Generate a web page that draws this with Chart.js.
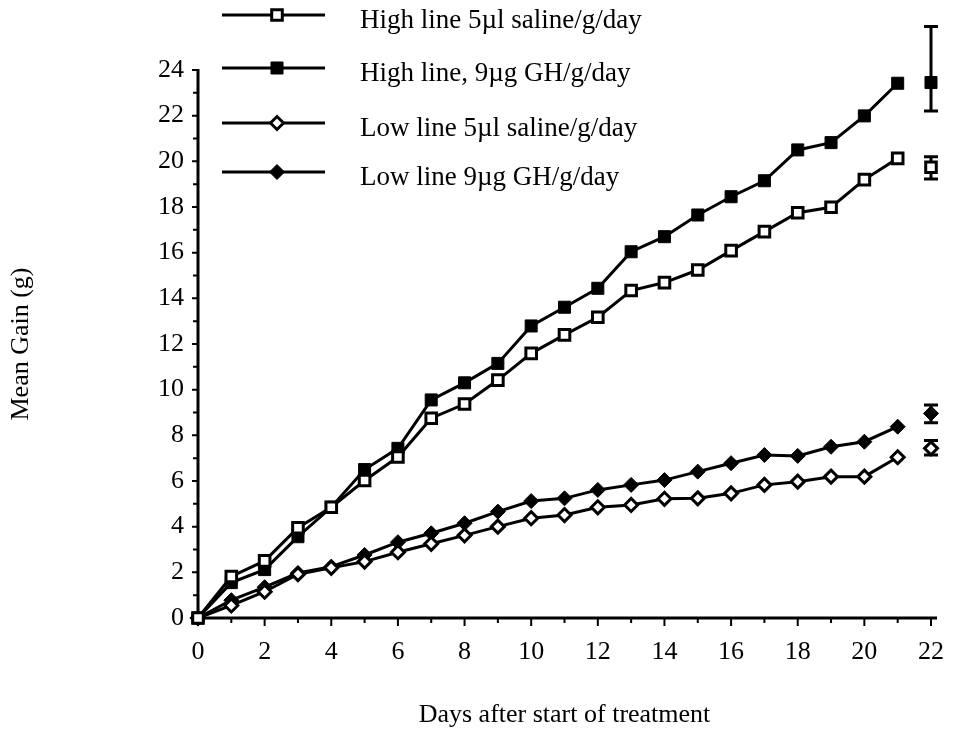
<!DOCTYPE html>
<html>
<head>
<meta charset="utf-8">
<script src="https://cdn.jsdelivr.net/npm/chart.js@4.4.1/dist/chart.umd.min.js"></script>
<style>
html, body { margin: 0; padding: 0; background: #fff; overflow: hidden; }
#wrap { width: 957px; height: 732px; position: relative; }
#gain { display: block; }
</style>
</head>
<body>
<div id="wrap"><canvas id="gain"></canvas></div>
<script>
var days = [0, 1, 2, 3, 4, 5, 6, 7, 8, 9, 10, 11, 12, 13, 14, 15, 16, 17, 18, 19, 20, 21];
var highSaline = [0, 1.82, 2.5, 3.95, 4.85, 6.02, 7.05, 8.75, 9.37, 10.42, 11.59, 12.4, 13.17, 14.34, 14.69, 15.24, 16.09, 16.92, 17.75, 17.99, 19.2, 20.13];
var highGH = [0, 1.55, 2.12, 3.56, 4.85, 6.5, 7.43, 9.55, 10.3, 11.15, 12.79, 13.61, 14.44, 16.04, 16.7, 17.65, 18.45, 19.15, 20.5, 20.82, 21.99, 23.42];
var lowSaline = [0, 0.55, 1.15, 1.92, 2.2, 2.47, 2.88, 3.25, 3.62, 4.0, 4.37, 4.51, 4.85, 4.95, 5.22, 5.24, 5.46, 5.83, 5.97, 6.19, 6.19, 7.04];
var lowGH = [0, 0.78, 1.35, 1.97, 2.25, 2.76, 3.32, 3.71, 4.15, 4.66, 5.12, 5.24, 5.61, 5.83, 6.04, 6.41, 6.78, 7.14, 7.1, 7.5, 7.72, 8.38];

// mean +/- error shown past the last day
var endDay = 22;
var endMean = [19.74, 23.45, 7.43, 8.96];
var endLow = [19.23, 22.2, 7.14, 8.55];
var endHigh = [20.2, 25.9, 7.77, 9.33];

var seriesNames = ['High line 5\u00b5l saline/g/day', 'High line, 9\u00b5g GH/g/day', 'Low line 5\u00b5l saline/g/day', 'Low line 9\u00b5g GH/g/day'];
var xTickLabels = ['0', '2', '4', '6', '8', '10', '12', '14', '16', '18', '20', '22'];
var yTickLabels = ['0', '2', '4', '6', '8', '10', '12', '14', '16', '18', '20', '22', '24'];

var ink = '#000';
var serif = "'Liberation Serif', 'Times New Roman', serif";
var textSize = 26;

var markers = [
	{style: 'rect', fill: '#fff', radius: 7.5, border: 3},
	{style: 'rect', fill: ink, radius: 8.5, border: 1},
	{style: 'rectRot', fill: '#fff', radius: 6.5, border: 3},
	{style: 'rectRot', fill: ink, radius: 7.5, border: 1}
];
var series = [highSaline, highGH, lowSaline, lowGH];

function toPoints (values) {
	return values.map(function (v, i) { return {x: days[i], y: v}; });
}

function drawMarker (ctx, m, x, y) {
	ctx.beginPath();
	if (m.style == 'rect') {
		var h = m.radius * Math.SQRT1_2;
		ctx.rect(x - h, y - h, 2 * h, 2 * h);
	} else {
		ctx.moveTo(x - m.radius, y);
		ctx.lineTo(x, y - m.radius);
		ctx.lineTo(x + m.radius, y);
		ctx.lineTo(x, y + m.radius);
		ctx.closePath();
	}
	ctx.fillStyle = m.fill;
	ctx.fill();
	ctx.lineWidth = m.border;
	ctx.strokeStyle = ink;
	ctx.stroke();
}

var datasets = [];
series.forEach(function (values, i) {
	var m = markers[i];
	datasets.push({
		label: seriesNames[i],
		data: toPoints(values),
		borderColor: ink,
		borderWidth: 3,
		pointStyle: m.style,
		pointRadius: m.radius,
		pointBackgroundColor: m.fill,
		pointBorderColor: ink,
		pointBorderWidth: m.border,
		clip: false
	});
});
series.forEach(function (values, i) {
	var m = markers[i];
	datasets.push({
		label: seriesNames[i] + ' (end)',
		data: [{x: endDay, y: endMean[i]}],
		showLine: false,
		pointStyle: m.style,
		pointRadius: m.radius,
		pointBackgroundColor: m.fill,
		pointBorderColor: ink,
		pointBorderWidth: m.border,
		clip: false
	});
});

// axis lines, tick marks and error bars
var axisMarks = {
	id: 'axisMarks',
	beforeDatasetsDraw: function (chart) {
		var ctx = chart.ctx, sx = chart.scales.x, sy = chart.scales.y;
		var left = sx.getPixelForValue(0), bottom = sy.getPixelForValue(0);
		ctx.save();
		ctx.strokeStyle = ink;
		ctx.lineWidth = 2;
		ctx.beginPath();
		for (var d = 0; d <= 22; d++) {
			var px = sx.getPixelForValue(d);
			ctx.moveTo(px, bottom);
			ctx.lineTo(px, bottom + (d % 2 == 0 ? 8 : 5));
		}
		for (var g = 0; g <= 24; g++) {
			var py = sy.getPixelForValue(g);
			ctx.moveTo(left, py);
			ctx.lineTo(left - (g % 2 == 0 ? 6 : 5), py);
		}
		ctx.stroke();
		ctx.lineWidth = 3;
		ctx.beginPath();
		ctx.moveTo(left, sy.getPixelForValue(24) - 1);
		ctx.lineTo(left, bottom);
		ctx.lineTo(sx.getPixelForValue(22) + 6, bottom);
		ctx.stroke();
		// error bars at the end day
		var ex = sx.getPixelForValue(endDay);
		ctx.lineWidth = 3;
		ctx.beginPath();
		for (var i = 0; i < endMean.length; i++) {
			var top = sy.getPixelForValue(endHigh[i]), low = sy.getPixelForValue(endLow[i]);
			ctx.moveTo(ex, top);
			ctx.lineTo(ex, low);
			ctx.moveTo(ex - 7, top);
			ctx.lineTo(ex + 7, top);
			ctx.moveTo(ex - 7, low);
			ctx.lineTo(ex + 7, low);
		}
		ctx.stroke();
		ctx.restore();
	},
	afterDraw: function (chart) {
		// legend block in the upper left
		var ctx = chart.ctx;
		var rows = [15, 68, 123, 172];
		ctx.save();
		ctx.font = '27px ' + serif;
		ctx.textBaseline = 'alphabetic';
		ctx.textAlign = 'left';
		rows.forEach(function (ry, i) {
			ctx.beginPath();
			ctx.moveTo(222, ry);
			ctx.lineTo(325, ry);
			ctx.lineWidth = 3;
			ctx.strokeStyle = ink;
			ctx.stroke();
			drawMarker(ctx, markers[i], 277, ry);
			ctx.fillStyle = ink;
			ctx.fillText(seriesNames[i], 360, ry + 13);
		});
		ctx.restore();
	}
};

new Chart(document.getElementById('gain').getContext('2d'), {
	type: 'line',
	data: {datasets: datasets},
	plugins: [axisMarks],
	options: {
		responsive: true,
		maintainAspectRatio: false,
		animation: false,
		layout: {padding: {left: 0, top: 70, right: 26, bottom: 0}},
		plugins: {
			legend: {display: false},
			tooltip: {enabled: false}
		},
		elements: {line: {tension: 0}},
		scales: {
			x: {
				type: 'linear',
				min: 0,
				max: 22,
				grid: {display: false, drawTicks: false},
				border: {display: false},
				ticks: {
					stepSize: 2,
					padding: 19,
					color: ink,
					font: {family: serif, size: textSize},
					callback: function (v) { return xTickLabels[v / 2]; }
				},
				title: {
					display: true,
					text: 'Days after start of treatment',
					color: ink,
					font: {family: serif, size: textSize},
					padding: {top: 0, bottom: 1}
				},
				afterFit: function (scale) {
					scale.height = 114;
					scale.paddingLeft = 0;
					scale.paddingRight = 0;
				}
			},
			y: {
				min: 0,
				max: 24,
				grid: {display: false, drawTicks: false},
				border: {display: false},
				ticks: {
					stepSize: 2,
					padding: 14,
					color: ink,
					font: {family: serif, size: textSize},
					callback: function (v) { return yTickLabels[v / 2]; }
				},
				title: {
					display: true,
					text: 'Mean Gain (g)',
					color: ink,
					font: {family: serif, size: textSize},
					padding: {top: 6, bottom: 0}
				},
				afterFit: function (scale) { scale.width = 198; }
			}
		}
	}
});
</script>
</body>
</html>
